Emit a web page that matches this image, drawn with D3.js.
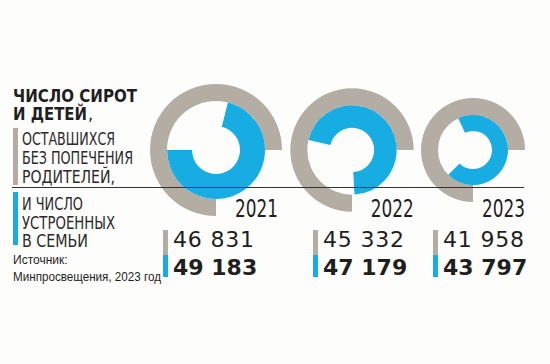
<!DOCTYPE html>
<html><head><meta charset="utf-8">
<script src="https://cdn.jsdelivr.net/npm/d3@7"></script>
<style>
html,body{margin:0;padding:0;background:#fdfdfb;}
svg{display:block;}
</style></head>
<body>
<svg id="c" width="550" height="364"></svg>
<script>
// ---- data ----
const years = ["2021", "2022", "2023"];
const orphans = [46831, 45332, 41958];      // gray: без попечения родителей
const placed = [49183, 47179, 43797];       // blue: устроенные в семьи
const titleLines = ["ЧИСЛО СИРОТ", "И ДЕТЕЙ"];
const grayLines = ["ОСТАВШИХСЯ", "БЕЗ ПОПЕЧЕНИЯ", "РОДИТЕЛЕЙ,"];
const blueLines = ["И ЧИСЛО", "УСТРОЕННЫХ", "В СЕМЬИ"];
const sourceLines = ["Источник:", "Минпросвещения, 2023 год"];

// ---- layout / style ----
const GRAY = "#b4ada3", BLUE = "#17ade3", INK = "#1f1f1f";
const svg = d3.select("#c");
const condensed = "'Liberation Sans Narrow','DejaVu Sans Condensed','Liberation Sans',sans-serif";
const cxScale = d3.scaleOrdinal().domain(years).range([216, 352, 473]);
const colScale = d3.scaleOrdinal().domain(years).range([163, 313, 433]);
const blueRotation = d3.scaleOrdinal().domain(years).range([14, -77, -25]); // degrees, decorative rotation
const cy = 150;
const outerR = d3.scaleLinear().domain(d3.extent(orphans)).range([52, 66]);
const innerBlueR = d3.scaleLinear().domain(d3.extent(placed)).range([19, 24]);
const blueSweep = d3.scaleLinear().domain(d3.extent(placed)).range([250, 256]);
const RING = 17;
const rad = d => d * Math.PI / 180;
const fmt = d3.formatLocale({decimal: ",", thousands: " ", grouping: [3], currency: ["", ""]}).format(",");

const data = years.map((y, i) => ({year: y, orphans: orphans[i], placed: placed[i]}));
const arc = d3.arc();

const charts = svg.append("g").selectAll("g").data(data).join("g")
  .attr("transform", d => `translate(${cxScale(d.year)},${cy})`);

// gray outer ring (from 6 o'clock clockwise to 3 o'clock)
charts.append("path").attr("fill", GRAY)
  .attr("d", d => arc({innerRadius: outerR(d.orphans) - RING, outerRadius: outerR(d.orphans),
    startAngle: rad(180), endAngle: rad(450)}));
// blue inner ring
charts.append("path").attr("fill", BLUE)
  .attr("d", d => {
    const s = blueRotation(d.year);
    return arc({innerRadius: innerBlueR(d.placed), outerRadius: outerR(d.orphans) - RING,
      startAngle: rad(s), endAngle: rad(s + blueSweep(d.placed))});
  });

// horizontal rule
svg.append("line").attr("x1", 12).attr("x2", 524).attr("y1", 187.5).attr("y2", 187.5)
  .attr("stroke", "#333").attr("stroke-width", 1);

// year labels
charts.append("text")
  .attr("x", d => outerR(d.orphans) + (d.year === "2021" ? -4 : 0))
  .attr("y", 217 - cy)
  .attr("text-anchor", "end")
  .attr("font-family", condensed).attr("font-size", 24).attr("fill", INK)
  .attr("textLength", 43).attr("lengthAdjust", "spacingAndGlyphs")
  .text(d => d.year);

// value columns
const cols = svg.append("g").selectAll("g").data(data).join("g")
  .attr("transform", d => `translate(${colScale(d.year)},0)`);
cols.append("rect").attr("x", 0).attr("y", 230).attr("width", 5).attr("height", 25).attr("fill", GRAY);
cols.append("rect").attr("x", 0).attr("y", 255).attr("width", 5).attr("height", 22).attr("fill", BLUE);
cols.append("text").attr("x", 10).attr("y", 247)
  .attr("font-family", "'DejaVu Sans',sans-serif").attr("font-size", 22).attr("fill", INK)
  .attr("letter-spacing", 0.8)
  .text(d => fmt(d.orphans));
cols.append("text").attr("x", 10).attr("y", 275)
  .attr("font-family", "'DejaVu Sans',sans-serif").attr("font-weight", "bold").attr("font-size", 22).attr("fill", INK)
  .text(d => fmt(d.placed));

// left legend
const lg = svg.append("g");
lg.append("text").attr("x", 13).attr("y", 101.5)
  .attr("font-family", condensed).attr("font-weight", "bold").attr("font-size", 18).attr("fill", INK)
  .attr("textLength", 124).attr("lengthAdjust", "spacingAndGlyphs").text(titleLines[0]);
lg.append("text").attr("x", 13).attr("y", 120)
  .attr("font-family", condensed).attr("font-weight", "bold").attr("font-size", 18).attr("fill", INK)
  .attr("textLength", 74).attr("lengthAdjust", "spacingAndGlyphs").text(titleLines[1]);
lg.append("text").attr("x", 88).attr("y", 120)
  .attr("font-family", condensed).attr("font-size", 18).attr("fill", INK).text(",");

lg.append("rect").attr("x", 13).attr("y", 128).attr("width", 5).attr("height", 57).attr("fill", GRAY);
lg.append("rect").attr("x", 13).attr("y", 192).attr("width", 5).attr("height", 53).attr("fill", BLUE);

const grayW = [93, 111, 93], blueW = [61, 93, 66];
lg.selectAll(".gl").data(grayLines).join("text").attr("class", "gl")
  .attr("x", 22).attr("y", (d, i) => 145 + i * 19)
  .attr("font-family", condensed).attr("font-size", 18.5).attr("fill", "#2a2a2a")
  .attr("textLength", (d, i) => grayW[i]).attr("lengthAdjust", "spacingAndGlyphs")
  .text(d => d);
lg.selectAll(".bl").data(blueLines).join("text").attr("class", "bl")
  .attr("x", 22).attr("y", (d, i) => 210 + i * 18.5)
  .attr("font-family", condensed).attr("font-size", 18.5).attr("fill", "#2a2a2a")
  .attr("textLength", (d, i) => blueW[i]).attr("lengthAdjust", "spacingAndGlyphs")
  .text(d => d);

lg.selectAll(".src").data(sourceLines).join("text").attr("class", "src")
  .attr("x", 13).attr("y", (d, i) => 264 + i * 17)
  .attr("font-family", "'Liberation Sans',Arial,sans-serif").attr("font-size", 12).attr("fill", INK)
  .attr("textLength", (d, i) => i === 1 ? 148 : null).attr("lengthAdjust", "spacingAndGlyphs")
  .text(d => d);
</script>
</body></html>
